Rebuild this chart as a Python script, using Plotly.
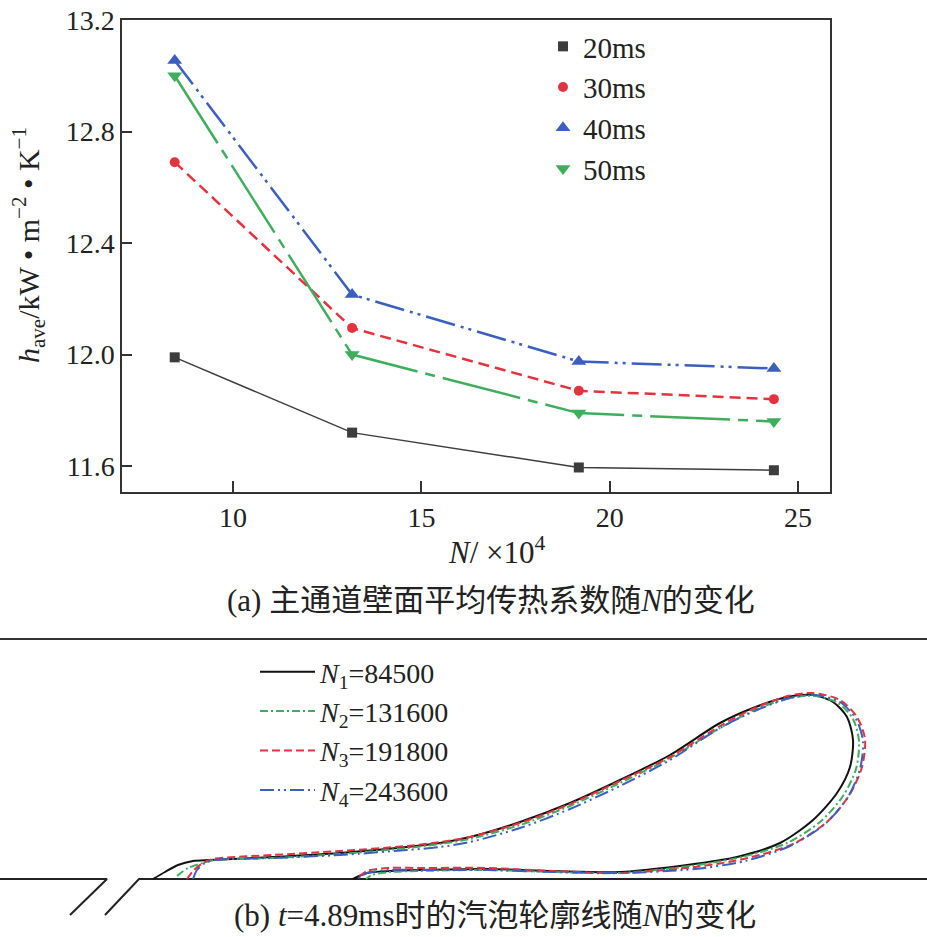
import plotly.graph_objects as go

# ---- (a) average heat transfer coefficient vs N ----
N_vals = [8.45, 13.16, 19.18, 24.36]          # N / 1e4
h_20ms = [11.99, 11.72, 11.595, 11.585]
h_30ms = [12.69, 12.095, 11.87, 11.84]
h_40ms = [13.055, 12.215, 11.975, 11.95]
h_50ms = [13.00, 12.00, 11.79, 11.76]
series_names = ["20ms", "30ms", "40ms", "50ms"]
x_ticks = [10, 15, 20, 25]
y_ticks = [11.6, 12.0, 12.4, 12.8, 13.2]
y_tick_text = ["11.6", "12.0", "12.4", "12.8", "13.2"]

# ---- (b) bubble contours at t=4.89ms (x along wall, h above wall, drawing units) ----
n1_x = [153, 165, 178, 193, 210, 273, 340, 407, 440, 470, 520, 570, 620, 670, 720, 753, 787,
        813, 833, 847, 853, 850, 837, 813, 780, 737, 687, 620, 553, 487, 420, 390, 367, 353]
n1_h = [0, 7, 14, 18, 19, 22, 26, 32, 36, 42, 57, 76, 99, 124, 156, 171, 182,
        184, 177, 162, 139, 112, 86, 59, 36, 22, 14, 7, 8, 10, 9, 8, 6, 0]
n2_x = [177, 188, 203, 215, 273, 340, 407, 440, 470, 520, 570, 620, 670, 720, 757, 790,
        815, 838, 853, 859, 856, 843, 820, 787, 742, 690, 620, 553, 487, 420, 390, 372, 366]
n2_h = [3, 11, 16, 19, 21, 25, 31, 35, 40, 54, 73, 96, 121, 151, 170, 181,
        183, 176, 160, 138, 110, 83, 57, 36, 22, 13, 6, 7, 9, 8, 7, 4, 0]
n3_x = [187, 194, 203, 213, 273, 340, 407, 440, 470, 520, 570, 620, 670, 720, 755, 788,
        812, 840, 857, 865, 862, 850, 828, 795, 748, 695, 620, 553, 487, 420, 390, 367, 357]
n3_h = [0, 9, 16, 20, 24, 28, 33, 37, 42, 56, 75, 98, 122, 153, 171, 183,
        186, 179, 162, 140, 112, 85, 58, 36, 21, 12, 6, 8, 11, 11, 11, 8, 0]
n4_x = [193, 197, 205, 215, 273, 340, 407, 440, 470, 520, 570, 620, 670, 720, 757, 790,
        815, 840, 856, 863, 860, 848, 825, 790, 745, 695, 620, 553, 487, 420, 390, 367, 357]
n4_h = [0, 9, 16, 19, 21, 24, 29, 32, 37, 51, 70, 93, 119, 151, 169, 181,
        184, 177, 160, 138, 110, 82, 55, 33, 18, 10, 6, 7, 9, 9, 9, 6, 0]
# wall with the inclined injection hole
wall_x = [0, 107, 70, None, 105, 139, 927]
wall_h = [0, 0, -36, None, -36, 0, 0]

SERIF = "Liberation Serif, Noto Sans CJK SC, serif"
W, H = 927, 937


def px(x):
    return x / W


def py(y):
    return 1 - y / H


fig = go.Figure()

top_styles = [
    dict(color="#3d3d3d", width=1.5, dash="solid", symbol="square", size=10),
    dict(color="#e5323f", width=2.5, dash="11px,6px", symbol="circle", size=10),
    dict(color="#3b5fbe", width=2.5, dash="30px,6px,3px,5px,3px,6px", symbol="triangle-up", size=13),
    dict(color="#3fae5c", width=2.5, dash="80px,8px,10px,8px", symbol="triangle-down", size=13),
]
top_series = [h_20ms, h_30ms, h_40ms, h_50ms]
for name, ys, st in zip(series_names, top_series, top_styles):
    fig.add_trace(go.Scatter(
        x=N_vals, y=ys, mode="lines", showlegend=False,
        line=dict(color=st["color"], width=st["width"], dash=st["dash"]),
    ))
for name, ys, st in zip(series_names, top_series, top_styles):
    fig.add_trace(go.Scatter(
        x=N_vals, y=ys, mode="markers", name=name, legend="legend",
        marker=dict(color=st["color"], symbol=st["symbol"], size=st["size"]),
    ))

fig.add_trace(go.Scatter(
    x=wall_x, y=wall_h, mode="lines", xaxis="x2", yaxis="y2", showlegend=False,
    line=dict(color="#222222", width=2),
))
bot_styles = [
    dict(color="#111111", dash="solid"),
    dict(color="#3fae5c", dash="8px,3px,2px,3px"),
    dict(color="#e5323f", dash="8px,4px"),
    dict(color="#3b5fbe", dash="14px,4px,2px,4px,2px,4px"),
]
labels = ["<i>N</i><sub>1</sub>=84500", "<i>N</i><sub>2</sub>=131600",
          "<i>N</i><sub>3</sub>=191800", "<i>N</i><sub>4</sub>=243600"]
for lab, xs, hs, st in zip(labels, [n1_x, n2_x, n3_x, n4_x], [n1_h, n2_h, n3_h, n4_h], bot_styles):
    fig.add_trace(go.Scatter(
        x=xs, y=hs, mode="lines", name=lab, xaxis="x2", yaxis="y2", legend="legend2",
        line=dict(color=st["color"], width=2, dash=st["dash"], shape="spline", smoothing=0.8),
    ))

axis_line = dict(showline=True, linecolor="#333333", linewidth=1.5, mirror=True,
                 ticks="inside", tickcolor="#333333", tickwidth=1.5,
                 showgrid=False, zeroline=False, automargin=False,
                 tickfont=dict(family=SERIF, size=28, color="#222222"))

fig.update_layout(
    width=W, height=H,
    margin=dict(l=0, r=0, t=0, b=0, autoexpand=False),
    paper_bgcolor="white", plot_bgcolor="white",
    font=dict(family=SERIF, color="#222222"),
    xaxis=dict(domain=[px(122), px(830)], range=[7.05, 25.85], tickvals=x_ticks,
               ticklen=11, anchor="y", **axis_line),
    yaxis=dict(domain=[py(492), py(20)], range=[11.507, 13.2],
               tickvals=y_ticks, ticktext=y_tick_text, ticklen=10, anchor="x",
               **axis_line),
    xaxis2=dict(domain=[0, 1], range=[0, W], visible=False, anchor="y2"),
    yaxis2=dict(domain=[0, (937 - 640) / H], range=[-58, 239], visible=False, anchor="x2"),
    legend=dict(x=px(543), y=py(21), xanchor="left", yanchor="top",
                font=dict(family=SERIF, size=29), bgcolor="rgba(0,0,0,0)",
                itemwidth=30, tracegroupgap=0),
    legend2=dict(x=px(255), y=py(647), xanchor="left", yanchor="top",
                 font=dict(family=SERIF, size=28), bgcolor="rgba(0,0,0,0)",
                 itemwidth=55, tracegroupgap=0),
    shapes=[dict(type="line", xref="paper", yref="paper", x0=0, x1=1,
                 y0=py(639), y1=py(639), line=dict(color="#333333", width=2))],
    annotations=[
        dict(text="<i>h</i><sub>ave</sub>/kW • m<sup>−2</sup> • K<sup>−1</sup>",
             xref="paper", yref="paper", x=px(29), y=py(245), textangle=-90,
             xanchor="center", yanchor="middle", showarrow=False,
             font=dict(family=SERIF, size=30)),
        dict(text="<i>N</i>/ ×10<sup>4</sup>", xref="paper", yref="paper",
             x=px(497), y=py(550), xanchor="center", yanchor="middle", showarrow=False,
             font=dict(family=SERIF, size=31)),
        dict(text="(a) 主通道壁面平均传热系数随<i>N</i>的变化", xref="paper", yref="paper",
             x=px(491), y=py(600), xanchor="center", yanchor="middle", showarrow=False,
             font=dict(family=SERIF, size=31)),
        dict(text="(b) <i>t</i>=4.89ms时的汽泡轮廓线随<i>N</i>的变化", xref="paper", yref="paper",
             x=px(495), y=py(915), xanchor="center", yanchor="middle", showarrow=False,
             font=dict(family=SERIF, size=31)),
    ],
)

# drop the default page margin so the figure fills the window
fig.write_html("out.html", config={"displayModeBar": False},
               post_script="document.body.style.margin = '0px';")
